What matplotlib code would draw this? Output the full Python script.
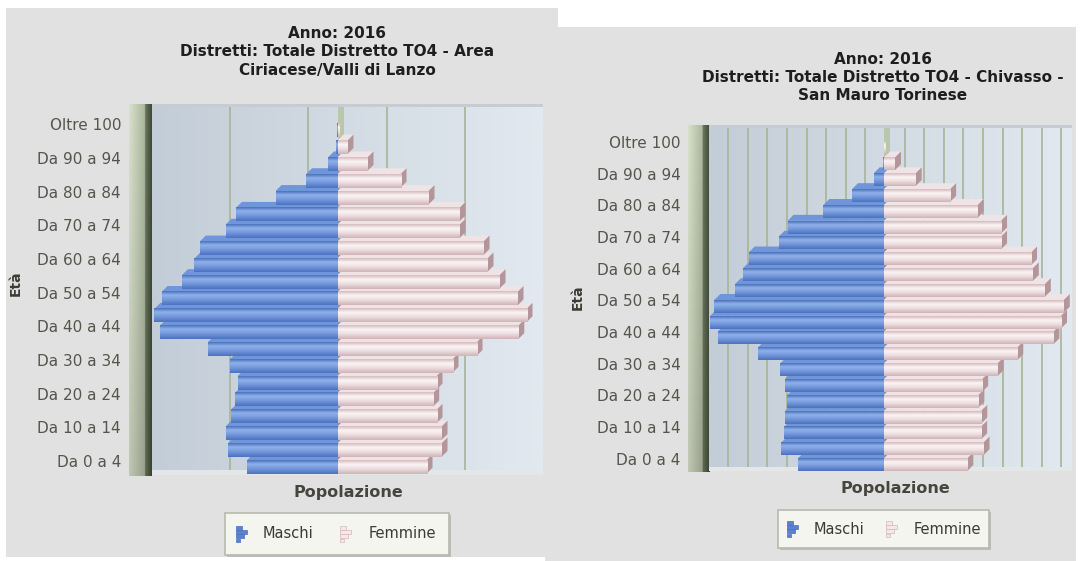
import numpy as np
import matplotlib
matplotlib.use("Agg")
import matplotlib.pyplot as plt
from matplotlib.patches import Rectangle, Polygon
from matplotlib.colors import LinearSegmentedColormap, to_rgb

# ---------------- data ----------------
age_groups = ["Da 0 a 4", "Da 5 a 9", "Da 10 a 14", "Da 15 a 19", "Da 20 a 24",
              "Da 25 a 29", "Da 30 a 34", "Da 35 a 39", "Da 40 a 44", "Da 45 a 49",
              "Da 50 a 54", "Da 55 a 59", "Da 60 a 64", "Da 65 a 69", "Da 70 a 74",
              "Da 75 a 79", "Da 80 a 84", "Da 85 a 89", "Da 90 a 94", "Da 95 a 99",
              "Oltre 100"]
tick_labels = age_groups[::2]

ciriacese_maschi = [2310, 2795, 2856, 2721, 2616, 2550, 2744, 3315, 4529, 4667,
                    4488, 3968, 3647, 3511, 2856, 2591, 1581, 803, 242, 30, 4]
ciriacese_femmine = [2270, 2652, 2652, 2525, 2440, 2525, 2933, 3545, 4610, 4820,
                     4590, 4131, 3825, 3723, 3111, 3111, 2320, 1607, 765, 255, 28]
chivasso_maschi = [2196, 2617, 2540, 2520, 2468, 2529, 2643, 3214, 4241, 4434,
                   4329, 3802, 3600, 3451, 2687, 2459, 1545, 817, 264, 30, 4]
chivasso_femmine = [2125, 2538, 2476, 2480, 2406, 2503, 2898, 3398, 4320, 4514,
                    4584, 4101, 3794, 3749, 2985, 2985, 2389, 1686, 808, 280, 30]

series_names = ["Maschi", "Femmine"]
title_left = ["Anno: 2016", "Distretti: Totale Distretto TO4 - Area", "Ciriacese/Valli di Lanzo"]
title_right = ["Anno: 2016", "Distretti: Totale Distretto TO4 - Chivasso -", "San Mauro Torinese"]
x_title = "Popolazione"
y_title = "Età"

# ---------------- layout (pixels) ----------------
W, H = 1080, 561
PPU = 25.5  # persons per pixel

fig = plt.figure(figsize=(W / 100, H / 100), dpi=100)
fig.patch.set_facecolor("white")


def frect(x0, y0, x1, y1):
    return [x0 / W, 1 - y1 / H, (x1 - x0) / W, (y1 - y0) / H]


def fig_rect(x0, y0, x1, y1, **kw):
    r = Rectangle((x0 / W, 1 - y1 / H), (x1 - x0) / W, (y1 - y0) / H,
                  transform=fig.transFigure, **kw)
    fig.add_artist(r)
    return r


blue_cmap = LinearSegmentedColormap.from_list(
    "b", [(0, "#4a70ba"), (0.28, "#8fb1ea"), (0.55, "#7a9ddf"), (1, "#4c72bf")])
pink_cmap = LinearSegmentedColormap.from_list(
    "p", [(0, "#d4babe"), (0.3, "#fbf4f5"), (0.6, "#efe1e3"), (1, "#cfb3b7")])
bg_cmap = LinearSegmentedColormap.from_list("bg", ["#c3cdd7", "#e2e9f0"])
BLUE_TOP = "#6f95da"
PINK_TOP = "#efe3e5"
PINK_SIDE = "#b4969a"

panels = [
    dict(maschi=ciriacese_maschi, femmine=ciriacese_femmine, titles=title_left,
         bg=(6, 8, 558, 557), plot=(152, 104, 543, 475), floor=470,
         wall=(129, 104, 145, 152, 476), zero=337.5, row0=461.0, rowsp=16.825,
         label_right=121, grid=np.arange(-2750, 5300, 2000),
         title_x=337, title_y=(33, 52, 70), eta=(16, 283), pop=(348, 493),
         legend=(225, 513, 449, 555), items=((236, 263), (340, 369))),
    dict(maschi=chivasso_maschi, femmine=chivasso_femmine, titles=title_right,
         bg=(545, 27, 1076, 561), plot=(709, 125, 1072, 471), floor=467,
         wall=(688, 125, 702, 709, 472), zero=884.0, row0=458.7, rowsp=15.835,
         label_right=680.5, grid=np.arange(-3975, 4800, 500),
         title_x=883, title_y=(59, 78, 96), eta=(578, 297), pop=(895, 489),
         legend=(778, 510, 989, 548), items=((787, 814), (886, 914))),
]

# gray panel backgrounds
for p in panels:
    fig_rect(*p["bg"], fc="#e1e1e1", ec="none", zorder=-5)

grad_v = np.linspace(0, 1, 64)[:, None]
grad_h = np.linspace(0, 1, 256)[None, :]

for p in panels:
    # ---- left wall ----
    wx0, wy0, wmid, wx1, wy1 = p["wall"]
    axw = fig.add_axes(frect(wx0, wy0, wx1, wy1))
    axw.axis("off")
    n = 60
    cols = np.zeros((1, n, 3))
    xs = np.linspace(wx0, wx1, n)
    c_l0, c_l1 = np.array(to_rgb("#ccd4c0")), np.array(to_rgb("#a2ab94"))
    c_d0, c_d1 = np.array(to_rgb("#66725a")), np.array(to_rgb("#3c4534"))
    for k, xv in enumerate(xs):
        if xv < wmid:
            t = (xv - wx0) / (wmid - wx0)
            cols[0, k] = c_l0 * (1 - t) + c_l1 * t
        else:
            t = (xv - wmid) / (wx1 - wmid)
            cols[0, k] = c_d0 * (1 - t) + c_d1 * t
    vert = np.linspace(1.06, 0.94, 80)[:, None, None]
    img = np.clip(cols * vert, 0, 1)
    axw.imshow(img, aspect="auto", extent=(0, 1, 0, 1), interpolation="bilinear")

    # ---- main plot ----
    ax = fig.add_axes(frect(*p["plot"]))
    ax.patch.set_visible(False)
    for s in ax.spines.values():
        s.set_visible(False)
    zero, row0, rs = p["zero"], p["row0"], p["rowsp"]

    def xd(px):
        return (px - zero) * PPU

    def yd(py):
        return (row0 - py) / rs

    px0, py0, px1, py1 = p["plot"]
    x0, x1 = xd(px0), xd(px1)
    y0, y1 = yd(py1), yd(py0)

    ax.imshow(grad_h, cmap=bg_cmap, extent=(x0, x1, yd(p["floor"]), yd(py0 + 3)),
              aspect="auto", zorder=0.1, interpolation="bilinear")
    ax.add_patch(Rectangle((x0, yd(py0 + 3)), x1 - x0, y1 - yd(py0 + 3),
                           fc="#c6ccd1", ec="none", zorder=0.6))
    ax.add_patch(Rectangle((x0, y0), x1 - x0, yd(p["floor"]) - y0,
                           fc="#e4e7e7", ec="none", zorder=0.6))

    ax.set_xticks(p["grid"])
    ax.grid(axis="x", color="#a6b598", linewidth=1.2)
    ax.set_axisbelow(True)
    ax.tick_params(axis="x", length=0, labelbottom=False)

    dx = 6 * PPU
    dy = 6 / rs
    off = 6 / rs
    # zero axis tab at the back
    ax.add_patch(Rectangle((0, yd(p["floor"])), dx, yd(py0 + 3) - yd(p["floor"]),
                           fc="#b9c7ab", ec="none", zorder=0.7))

    yy = np.arange(len(age_groups)) - off
    hgt = 0.8
    bm = ax.barh(yy, -np.asarray(p["maschi"], float), height=hgt, color="#6a8fd6", lw=0)
    bf = ax.barh(yy, np.asarray(p["femmine"], float), height=hgt, color="#f0e2e4", lw=0)
    min_w = 2 * PPU  # bars thinner than ~2 px are drawn flat (no 3D faces)
    for i, (pm, pf) in enumerate(zip(bm.patches, bf.patches)):
        base = 3 + 0.1 * i
        # male
        bx, by, bw, bh = pm.get_x(), pm.get_y(), pm.get_width(), pm.get_height()
        xa, xb = min(bx, bx + bw), max(bx, bx + bw)
        yb, yt = by, by + bh
        if abs(bw) >= min_w:
            ax.add_patch(Polygon([(xa, yt), (xb, yt), (xb + dx, yt + dy), (xa + dx, yt + dy)],
                                 closed=True, fc=BLUE_TOP, ec="none", zorder=base))
        pm.set_zorder(base + 0.02)
        ax.imshow(grad_v, cmap=blue_cmap, extent=(xa, xb, yb, yt), aspect="auto",
                  zorder=base + 0.03, interpolation="bilinear")
        # female
        bx, by, bw, bh = pf.get_x(), pf.get_y(), pf.get_width(), pf.get_height()
        xa, xb = min(bx, bx + bw), max(bx, bx + bw)
        if abs(bw) >= min_w:
            ax.add_patch(Polygon([(xa, yt), (xb, yt), (xb + dx, yt + dy), (xa + dx, yt + dy)],
                                 closed=True, fc=PINK_TOP, ec="none", zorder=base + 0.001))
            ax.add_patch(Polygon([(xb, yb), (xb + dx, yb + dy), (xb + dx, yt + dy), (xb, yt)],
                                 closed=True, fc=PINK_SIDE, ec="none", zorder=base + 0.002))
        pf.set_zorder(base + 0.02)
        ax.imshow(grad_v, cmap=pink_cmap, extent=(xa, xb, yb, yt), aspect="auto",
                  zorder=base + 0.03, interpolation="bilinear")

    ax.set_xlim(x0, x1)
    ax.set_ylim(y0, y1)
    ax.set_yticks(np.arange(0, len(age_groups), 2))
    ax.set_yticklabels(tick_labels, fontsize=11, color="#55554c")
    ax.tick_params(axis="y", length=0, pad=(px0 - p["label_right"]) * 0.72)

    pw, ph = px1 - px0, py1 - py0
    ax.set_ylabel(y_title, fontsize=10, fontweight="bold", color="#3c3c34")
    ax.yaxis.set_label_coords((p["eta"][0] - px0) / pw, (py1 - p["eta"][1]) / ph)
    ax.yaxis.label.set_verticalalignment("center")
    ax.set_xlabel(x_title, fontsize=11.5, fontweight="bold", color="#46463e")
    ax.xaxis.set_label_coords((p["pop"][0] - px0) / pw, (py1 - p["pop"][1]) / ph)
    ax.xaxis.label.set_verticalalignment("center")

    # titles
    for txt, ty in zip(p["titles"], p["title_y"]):
        fig.text(p["title_x"] / W, 1 - ty / H, txt, ha="center", va="center",
                 fontsize=11, fontweight="bold", color="#1e1e1e")

    # legend
    lx0, ly0, lx1, ly1 = p["legend"]
    fig_rect(lx0 + 2, ly0 + 2, lx1 + 2, ly1 + 2, fc="#bcbcbc", ec="none", zorder=5)
    fig_rect(lx0, ly0, lx1, ly1, fc="#f3f5ee", ec="#b7bab0", lw=1.2, zorder=6)
    ymid = (ly0 + ly1) / 2
    icon_specs = [("#5b82cc", "#4a70ba"), ("#f5e8ea", "#d6b6ba")]
    for (ix, tx), name, (fc, ec) in zip(p["items"], series_names, icon_specs):
        lens = [6, 11, 8, 4]
        for k, L in enumerate(lens):
            yk = ymid - 8 + k * 4.2
            fig_rect(ix, yk, ix + L, yk + 3.6, fc=fc, ec=ec, lw=0.5, zorder=7)
        fig.text(tx / W, 1 - ymid / H, name, ha="left", va="center",
                 fontsize=10.5, color="#3a3a36", zorder=8)

fig.savefig("out.png", dpi=100, facecolor=fig.get_facecolor())
